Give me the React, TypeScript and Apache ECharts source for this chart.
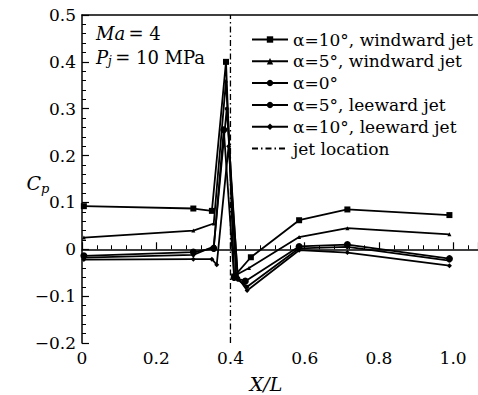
import React, { useEffect, useRef } from "react";
import * as echarts from "echarts";

const seriesNames = [
  "α=10°, windward jet",
  "α=5°, windward jet",
  "α=0°",
  "α=5°, leeward jet",
  "α=10°, leeward jet",
];
const jetName = "jet location";

const w10: number[][] = [
  [0.005, 0.092], [0.3, 0.087], [0.35, 0.082], [0.388, 0.4], [0.41, -0.058],
  [0.455, -0.017], [0.585, 0.062], [0.715, 0.085], [0.99, 0.073],
];
const w5: number[][] = [
  [0.005, 0.025], [0.3, 0.04], [0.355, 0.055], [0.388, 0.36], [0.415, -0.055],
  [0.45, -0.04], [0.585, 0.026], [0.715, 0.045], [0.99, 0.032],
];
const a0: number[][] = [
  [0.005, -0.014], [0.3, -0.006], [0.355, 0.002], [0.382, 0.255], [0.41, -0.06],
  [0.44, -0.068], [0.585, 0.006], [0.715, 0.01], [0.99, -0.02],
];
const l5: number[][] = [
  [0.005, -0.018], [0.3, -0.012], [0.355, 0.006], [0.39, 0.3], [0.42, -0.065],
  [0.445, -0.08], [0.585, 0.002], [0.715, 0.005], [0.99, -0.024],
];
const l10: number[][] = [
  [0.005, -0.022], [0.3, -0.021], [0.35, -0.021], [0.363, -0.033], [0.395, 0.22],
  [0.42, -0.06], [0.445, -0.088], [0.585, -0.002], [0.715, -0.007], [0.99, -0.035],
];
const jetLine: number[][] = [[0.4, -0.2], [0.4, 0.5]];

const symbols = ["rect", "triangle", "circle", "circle", "diamond"];
const symbolSizes = [6, 4, 7, 4, 5];

const FONT = "DejaVu Serif";
const X_MAX = 1.067;

export default function App() {
  const ref = useRef<HTMLDivElement>(null);
  useEffect(() => {
    const chart = echarts.init(ref.current!, undefined, { renderer: "svg" });
    const datas = [w10, w5, a0, l5, l10];
    const series: any[] = datas.map((d, i) => ({
      name: seriesNames[i],
      type: "line",
      data: d,
      symbol: symbols[i],
      symbolSize: symbolSizes[i],
      showAllSymbol: true,
      lineStyle: { color: "#000", width: 1.8 },
      itemStyle: { color: "#000" },
      z: 3,
    }));
    series.push({
      name: jetName,
      type: "line",
      data: jetLine,
      symbol: "none",
      lineStyle: { color: "#000", width: 1.3, type: [6, 3, 1.5, 3] },
      itemStyle: { color: "#000" },
      z: 2,
    });
    const tickFmt = (v: number) => (v === 0 ? "0" : v > 1.05 ? "" : v.toFixed(1));
    chart.setOption({
      animation: false,
      backgroundColor: "#fff",
      textStyle: { fontFamily: FONT },
      grid: { left: 82, top: 15, bottom: 52, right: 0 },
      legend: {
        orient: "vertical",
        left: 246,
        top: 26,
        itemWidth: 36,
        itemHeight: 8,
        itemGap: 4.8,
        textStyle: { fontFamily: FONT, fontSize: 17, color: "#000" },
        data: [
          ...seriesNames,
          { name: jetName, itemStyle: { opacity: 0 } },
        ],
      },
      xAxis: [
        {
          type: "value",
          min: 0, max: X_MAX, interval: 0.2,
          axisLine: { lineStyle: { color: "#000", width: 1.5 } },
          axisTick: { inside: true, length: 7, lineStyle: { color: "#000", width: 1.2 } },
          minorTick: { show: true, splitNumber: 5, length: 4, lineStyle: { color: "#000", width: 1 } },
          splitLine: { show: false },
          axisLabel: {
            fontFamily: FONT, fontSize: 17, color: "#000", margin: 6,
            formatter: tickFmt, showMaxLabel: false,
          },
        },
        {
          type: "value",
          position: "top",
          min: 0, max: X_MAX,
          axisLine: { show: true, lineStyle: { color: "#000", width: 1.5 } },
          axisTick: { show: false },
          axisLabel: { show: false },
          splitLine: { show: false },
        },
      ],
      yAxis: {
        type: "value",
        min: -0.2, max: 0.5, interval: 0.1,
        axisLine: { lineStyle: { color: "#000", width: 1.5 } },
        axisTick: { inside: true, length: 7, lineStyle: { color: "#000", width: 1.2 } },
        minorTick: { show: true, splitNumber: 5, length: 4, lineStyle: { color: "#000", width: 1 } },
        splitLine: { show: false },
        axisLabel: {
          fontFamily: FONT, fontSize: 17, color: "#000", margin: 6,
          formatter: (v: number) => {
            const r = Math.round(v * 10) / 10;
            if (r === 0) return "0";
            return r < 0 ? "\u2212" + Math.abs(r).toFixed(1) : r.toFixed(1);
          },
        },
      },
      graphic: [
        {
          type: "text", left: 96, top: 24,
          style: {
            text: "{i|Ma} {n|= 4}",
            rich: {
              i: { fontFamily: FONT, fontSize: 18, fontStyle: "italic", fill: "#000" },
              n: { fontFamily: FONT, fontSize: 18, fill: "#000" },
            },
          },
        },
        {
          type: "text", left: 96, top: 48,
          style: {
            text: "{i|P}{s|j} {n|= 10 MPa}",
            rich: {
              i: { fontFamily: FONT, fontSize: 18, fontStyle: "italic", fill: "#000" },
              s: { fontFamily: FONT, fontSize: 12, fontStyle: "italic", fill: "#000", padding: [8, 0, 0, 0] },
              n: { fontFamily: FONT, fontSize: 18, fill: "#000" },
            },
          },
        },
        {
          type: "text", x: 266, y: 384,
          style: {
            text: "X/L", fontFamily: FONT, fontSize: 19, fontStyle: "italic", fill: "#000",
            textAlign: "center", textVerticalAlign: "middle",
          },
        },
        {
          type: "text", x: 38, y: 183,
          style: {
            text: "{c|C}{p|p}",
            textAlign: "center", textVerticalAlign: "middle",
            rich: {
              c: { fontFamily: FONT, fontSize: 19, fontStyle: "italic", fill: "#000" },
              p: { fontFamily: FONT, fontSize: 13, fontStyle: "italic", fill: "#000", padding: [10, 0, 0, 0] },
            },
          },
        },
      ],
      series,
    });
    return () => chart.dispose();
  }, []);
  return (
    <div
      ref={ref}
      style={{ position: "absolute", left: 0, top: 0, width: 478, height: 395 }}
    />
  );
}
